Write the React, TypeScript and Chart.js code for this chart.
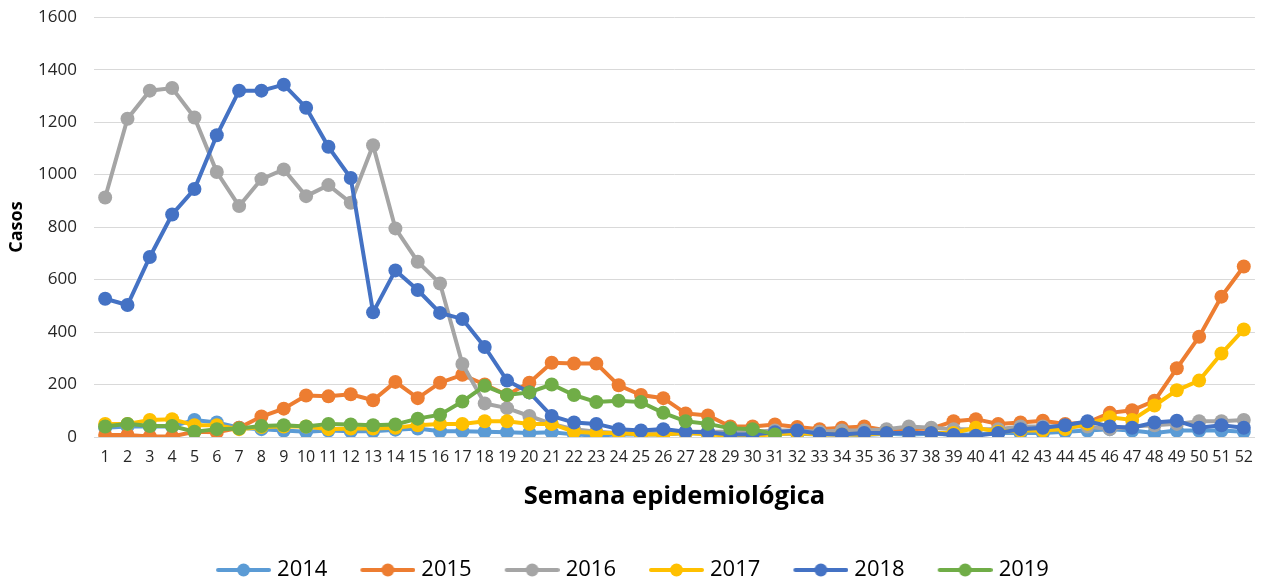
import React, { useEffect, useRef } from "react";
import { Chart, registerables } from "chart.js";

Chart.register(...registerables);

const weeks = ["1","2","3","4","5","6","7","8","9","10","11","12","13","14","15","16","17","18","19","20","21","22","23","24","25","26","27","28","29","30","31","32","33","34","35","36","37","38","39","40","41","42","43","44","45","46","47","48","49","50","51","52"];

const y2014 = [35,40,40,40,65,55,35,30,25,20,25,22,22,28,32,22,22,20,18,15,18,10,5,10,10,10,15,12,15,10,12,12,10,10,8,12,10,12,10,10,15,15,15,20,25,30,25,15,25,25,25,20];
const y2015 = [8,8,2,2,20,18,35,78,108,158,155,163,140,210,148,207,237,200,160,207,283,280,280,197,160,148,90,82,40,40,48,38,30,35,40,25,30,32,60,68,50,55,62,50,55,92,102,138,262,382,535,650];
const y2016 = [913,1213,1320,1330,1218,1010,880,983,1020,918,960,893,1112,795,668,585,278,128,110,80,50,30,20,15,15,15,20,20,20,20,25,25,20,25,25,30,40,35,30,30,30,40,40,40,40,30,40,45,50,60,60,65];
const y2017 = [50,50,65,68,45,45,30,38,40,40,30,32,32,35,45,50,50,60,60,50,50,20,15,15,10,10,15,10,5,5,10,15,10,10,10,15,15,15,15,35,20,25,25,30,50,75,65,120,178,215,318,410];
const y2018 = [527,503,686,848,945,1150,1320,1320,1343,1255,1106,987,475,635,560,473,450,343,215,170,80,55,50,30,25,30,20,18,10,10,18,25,12,10,15,15,15,15,8,5,15,30,35,45,60,40,35,55,62,35,45,35];
const y2019 = [40,50,42,42,20,30,32,42,45,40,50,48,45,48,70,85,135,195,160,170,200,160,133,138,133,92,60,50,33,30,10];

const seriesNames = ["2014","2015","2016","2017","2018","2019"];
const seriesData = [y2014, y2015, y2016, y2017, y2018, y2019];
const seriesColors = ["#5B9BD5","#ED7D31","#A5A5A5","#FFC000","#4472C4","#70AD47"];

const FONT = "'Open Sans', 'Noto Sans', sans-serif";

// legend icon: a short line with a marker
function makeIcon(color: string): HTMLCanvasElement {
  const c = document.createElement("canvas");
  c.width = 64;
  c.height = 16;
  const ctx = c.getContext("2d")!;
  ctx.strokeStyle = color;
  ctx.lineWidth = 4;
  ctx.lineCap = "round";
  ctx.beginPath();
  ctx.moveTo(11, 8);
  ctx.lineTo(62, 8);
  ctx.stroke();
  ctx.fillStyle = color;
  ctx.beginPath();
  ctx.arc(36.5, 8, 6.5, 0, Math.PI * 2);
  ctx.fill();
  return c;
}

export default function App() {
  const ref = useRef<HTMLCanvasElement | null>(null);

  useEffect(() => {
    if (!ref.current) return;
    const icons = seriesColors.map(makeIcon);
    const chart = new Chart(ref.current, {
      type: "line",
      data: {
        labels: weeks,
        datasets: seriesNames.map((name, i) => ({
          label: name,
          data: seriesData[i],
          borderColor: seriesColors[i],
          backgroundColor: seriesColors[i],
          pointBackgroundColor: seriesColors[i],
          pointBorderColor: seriesColors[i],
          borderWidth: 4,
          pointRadius: 7,
          pointBorderWidth: 0,
          pointHoverRadius: 7,
          tension: 0,
          fill: false,
          order: seriesNames.length - i,
        })),
      },
      options: {
        animation: false,
        responsive: true,
        maintainAspectRatio: false,
        layout: { padding: { top: 0, right: 3, left: 0, bottom: -9 } },
        scales: {
          x: {
            offset: true,
            grid: { display: false, drawTicks: false },
            border: { display: true, color: "#d9d9d9" },
            ticks: {
              autoSkip: false,
              maxRotation: 0,
              minRotation: 0,
              padding: 11,
              color: "#262626",
              font: { family: FONT, size: 16 },
            },
            title: {
              display: true,
              text: "Semana epidemiológica",
              color: "#000000",
              font: { family: FONT, size: 25.5, weight: "bold" },
              padding: { top: 4, bottom: 18 },
            },
            afterFit: (scale: any) => {
              scale.height = 93;
            },
          },
          y: {
            min: 0,
            max: 1600,
            grid: { color: "#d9d9d9", lineWidth: 1, drawTicks: false },
            border: { display: false },
            ticks: {
              stepSize: 200,
              padding: 17,
              color: "#262626",
              font: { family: FONT, size: 17 },
              callback: (v: any) => String(v),
            },
            title: {
              display: true,
              text: "Casos",
              color: "#000000",
              font: { family: FONT, size: 18, weight: "bold" },
              padding: { top: 6, bottom: 0 },
            },
            afterFit: (scale: any) => {
              scale.width = 94;
            },
          },
        },
        plugins: {
          tooltip: { enabled: false },
          legend: {
            position: "bottom",
            labels: {
              usePointStyle: true,
              pointStyleWidth: 54,
              boxHeight: 16,
              padding: 29,
              color: "#000000",
              font: { family: FONT, size: 22 },
              sort: (a: any, b: any) => a.datasetIndex - b.datasetIndex,
              generateLabels: (ch: any) => {
                const items = Chart.defaults.plugins.legend.labels.generateLabels(ch);
                return items.map((it: any) => ({
                  ...it,
                  pointStyle: icons[it.datasetIndex],
                }));
              },
            },
          },
        },
      },
    });
    return () => chart.destroy();
  }, []);

  return (
    <div style={{ position: "fixed", left: 0, top: -10, width: 1264, height: 592, background: "#ffffff" }}>
      <canvas ref={ref} />
    </div>
  );
}
